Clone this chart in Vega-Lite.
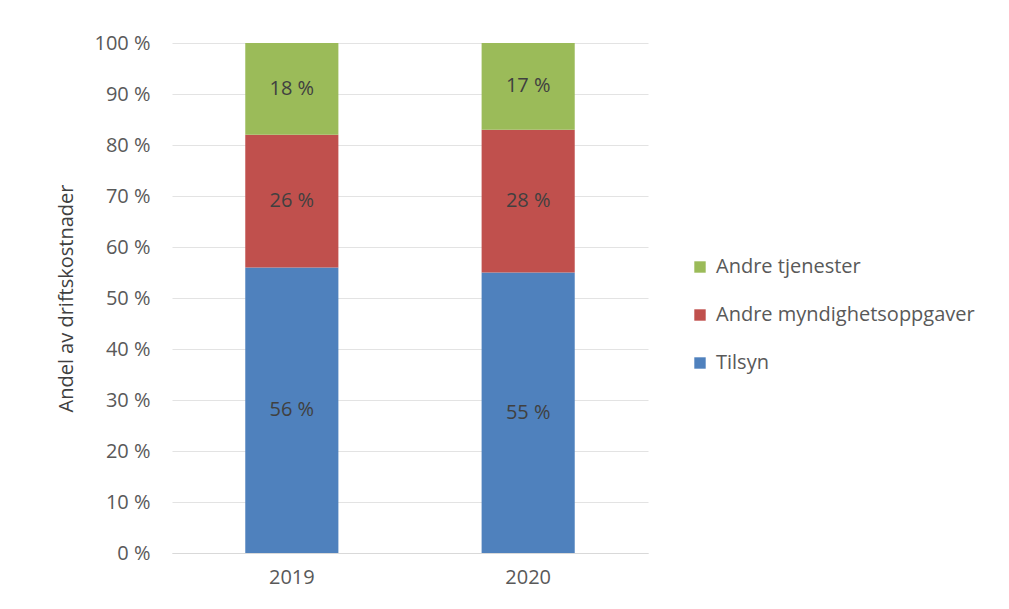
{
  "$schema": "https://vega.github.io/schema/vega-lite/v6.json",
  "width": 476,
  "height": 510,
  "autosize": {"type": "none"},
  "padding": {"left": 172, "top": 43, "right": 361, "bottom": 56},
  "background": "white",
  "config": {
    "view": {"stroke": null},
    "font": "Open Sans"
  },
  "data": {
    "values": [
      {"year": "2019", "category": "Tilsyn", "value": 56, "ord": 1},
      {"year": "2019", "category": "Andre myndighetsoppgaver", "value": 26, "ord": 2},
      {"year": "2019", "category": "Andre tjenester", "value": 18, "ord": 3},
      {"year": "2020", "category": "Tilsyn", "value": 55, "ord": 1},
      {"year": "2020", "category": "Andre myndighetsoppgaver", "value": 28, "ord": 2},
      {"year": "2020", "category": "Andre tjenester", "value": 17, "ord": 3}
    ]
  },
  "transform": [{"calculate": "datum.value + ' %'", "as": "label"}],
  "encoding": {
    "x": {
      "field": "year",
      "type": "nominal",
      "title": null,
      "scale": {"paddingInner": 0.606, "paddingOuter": 0.31},
      "axis": {
        "labelAngle": 0,
        "labelFontSize": 20,
        "labelColor": "#595959",
        "labelPadding": 14,
        "ticks": false,
        "domainColor": "#d9d9d9",
        "domainWidth": 1
      }
    },
    "y": {
      "field": "value",
      "type": "quantitative",
      "stack": "zero",
      "scale": {"domain": [0, 100]},
      "title": "Andel av driftskostnader",
      "axis": {
        "values": [0, 10, 20, 30, 40, 50, 60, 70, 80, 90, 100],
        "labelExpr": "datum.value + ' %'",
        "labelFontSize": 20,
        "labelColor": "#595959",
        "labelPadding": 22,
        "ticks": false,
        "domain": false,
        "gridColor": "#e3e3e3",
        "gridWidth": 1,
        "titleFontSize": 20,
        "titleFontWeight": "normal",
        "titleColor": "#404040",
        "titlePadding": 17
      }
    },
    "order": {"field": "ord", "type": "quantitative"}
  },
  "layer": [
    {
      "mark": {"type": "bar"},
      "encoding": {
        "color": {
          "field": "category",
          "type": "nominal",
          "sort": ["Andre tjenester", "Andre myndighetsoppgaver", "Tilsyn"],
          "scale": {
            "domain": ["Andre tjenester", "Andre myndighetsoppgaver", "Tilsyn"],
            "range": ["#9bbb59", "#c0504d", "#4f81bd"]
          },
          "legend": {
            "title": null,
            "orient": "none",
            "legendX": 518,
            "legendY": 214,
            "symbolType": "square",
            "symbolSize": 130,
            "symbolStrokeWidth": 0,
            "labelFontSize": 20,
            "labelLimit": 400,
            "labelColor": "#595959",
            "rowPadding": 28,
            "labelOffset": 6
          }
        }
      }
    },
    {
      "mark": {"type": "text", "fontSize": 20, "color": "#404040"},
      "encoding": {
        "y": {"field": "value", "type": "quantitative", "stack": "zero", "bandPosition": 0.5},
        "text": {"field": "label", "type": "nominal"}
      }
    }
  ]
}
